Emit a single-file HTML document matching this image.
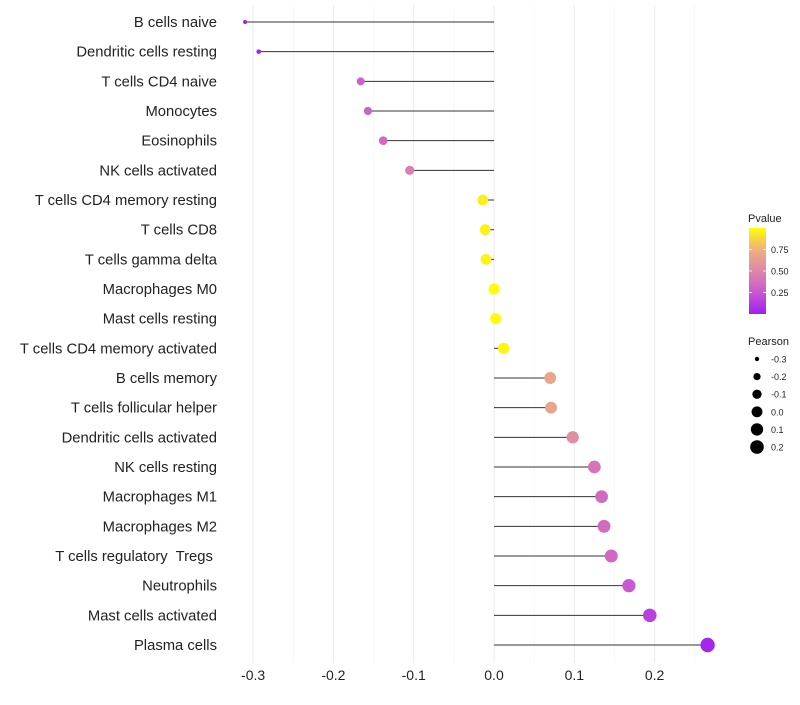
<!DOCTYPE html>
<html><head><meta charset="utf-8"><style>
body{margin:0;background:#fff;font-family:"Liberation Sans",sans-serif}
</style></head><body>
<svg id="chart" width="800" height="700" xmlns="http://www.w3.org/2000/svg" font-family="Liberation Sans, sans-serif"></svg>
<script>
const categories=["B cells naive","Dendritic cells resting","T cells CD4 naive","Monocytes","Eosinophils","NK cells activated","T cells CD4 memory resting","T cells CD8","T cells gamma delta","Macrophages M0","Mast cells resting","T cells CD4 memory activated","B cells memory","T cells follicular helper","Dendritic cells activated","NK cells resting","Macrophages M1","Macrophages M2","T cells regulatory  Tregs ","Neutrophils","Mast cells activated","Plasma cells"];
const pearson=[-0.310,-0.293,-0.166,-0.157,-0.138,-0.105,-0.014,-0.011,-0.010,0.0,0.002,0.012,0.070,0.071,0.098,0.125,0.134,0.137,0.146,0.168,0.194,0.266];
const pvalue=[0.0,0.02,0.3,0.3,0.33,0.45,0.95,0.96,0.96,0.99,0.99,0.97,0.68,0.68,0.55,0.4,0.35,0.35,0.33,0.25,0.15,0.03];
const xTicks=[-0.3,-0.2,-0.1,0.0,0.1,0.2];
const xTickLabels=["-0.3","-0.2","-0.1","0.0","0.1","0.2"];
const pTicks=[0.25,0.5,0.75];
const pTickLabels=["0.25","0.50","0.75"];
const sizeVals=[-0.3,-0.2,-0.1,0.0,0.1,0.2];
const sizeLabels=["-0.3","-0.2","-0.1","0.0","0.1","0.2"];

const svg=document.getElementById('chart');
const NS='http://www.w3.org/2000/svg';
function mk(t,a,p){const e=document.createElementNS(NS,t);for(const k in a)e.setAttribute(k,a[k]);(p||svg).appendChild(e);return e;}
const x=v=>494+v*803;
const y=i=>22+i*(645-22)/(categories.length-1);
const r=v=>Math.sqrt(Math.max(1,4+83*(v+0.31)));
const stops=[[160,32,240],[200,88,208],[221,136,168],[238,176,128],[255,255,0]];
function col(p){p=Math.max(0,Math.min(1,p));const s=p*4,i=Math.min(3,Math.floor(s)),t=s-i;
 const a=stops[i],b=stops[i+1];const c=a.map((v,k)=>Math.round(v+(b[k]-v)*t));return `rgb(${c[0]},${c[1]},${c[2]})`;}

for(let k=-6;k<=5;k++){
 const v=k*0.05;const major=k%2==0;
 const g=mk('line',{x1:x(v),x2:x(v),y1:5,y2:663,stroke:major?'#ebebeb':'#f3f3f3','stroke-width':major?1:0.6});
 
 
}
xTicks.forEach((v,i)=>{
 const t=mk('text',{x:x(v),y:680,'text-anchor':'middle','font-size':14,fill:'#222'});
 t.textContent=xTickLabels[i];
 
 
});
categories.forEach((c,i)=>{
 const t=mk('text',{x:217,y:y(i)+5,'text-anchor':'end','font-size':14.8,fill:'#222','xml:space':'preserve'});
 t.setAttribute('style','white-space:pre');
 t.textContent=c;
 
 
 const l=mk('line',{x1:x(0),x2:x(pearson[i]),y1:y(i),y2:y(i),stroke:'#333','stroke-width':1});
 
 
 const d=mk('circle',{cx:x(pearson[i]),cy:y(i),r:r(pearson[i]),fill:col(pvalue[i])});
 
 
});
const defs=mk('defs',{});
const lg=mk('linearGradient',{id:'pg',x1:0,y1:1,x2:0,y2:0},defs);
[0,0.25,0.5,0.75,1].forEach(s=>mk('stop',{offset:s,'stop-color':col(s)},lg));
const lt=mk('text',{x:748,y:222,'font-size':11,fill:'#222'});lt.textContent='Pvalue';


const bar=mk('rect',{x:749,y:228,width:17,height:86,fill:'url(#pg)'});


const py=p=>314-p*86;
pTicks.forEach((p,i)=>{
 mk('line',{x1:749,x2:752,y1:py(p),y2:py(p),stroke:'#fff','stroke-width':0.8});
 mk('line',{x1:763,x2:766,y1:py(p),y2:py(p),stroke:'#fff','stroke-width':0.8});
 const t=mk('text',{x:771,y:py(p)+3.5,'font-size':9,fill:'#222'});t.textContent=pTickLabels[i];
 
 
});
const st=mk('text',{x:748,y:345,'font-size':11,fill:'#222'});st.textContent='Pearson';


sizeVals.forEach((v,i)=>{
 const yy=359+i*17.6;
 const c=mk('circle',{cx:757,cy:yy,r:r(v),fill:'#000'});
 
 
 const t=mk('text',{x:771,y:yy+3.5,'font-size':9,fill:'#222'});t.textContent=sizeLabels[i];
 
 
});
</script>
</body></html>
